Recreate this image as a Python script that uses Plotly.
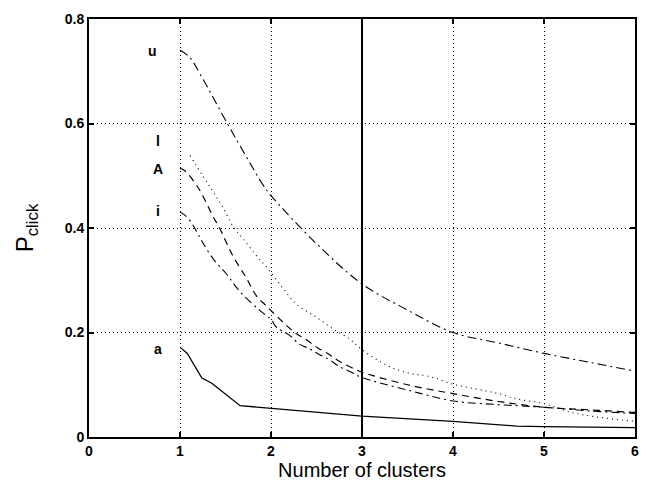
import plotly.graph_objects as go

# ---- data ----
u_x = [1.0, 1.1, 1.22, 1.52, 1.75, 1.91, 2.0, 2.5, 3.0, 3.5, 4.0, 4.5, 5.0, 5.5, 6.0]
u_y = [0.74, 0.728, 0.695, 0.60, 0.53, 0.483, 0.462, 0.37, 0.293, 0.243, 0.20, 0.18, 0.16, 0.143, 0.126]

l_x = [1.11, 1.25, 1.36, 1.47, 1.58, 1.69, 1.84, 1.96, 2.13, 2.28, 2.5, 2.68, 2.86, 3.0, 3.3, 3.52, 3.74, 4.0, 4.25, 4.5, 4.7, 5.0, 5.3, 5.6, 6.0]
l_y = [0.539, 0.50, 0.47, 0.44, 0.404, 0.38, 0.347, 0.323, 0.285, 0.254, 0.229, 0.207, 0.188, 0.167, 0.135, 0.122, 0.116, 0.101, 0.092, 0.083, 0.073, 0.064, 0.047, 0.038, 0.03]

A_x = [1.0, 1.05, 1.2, 1.36, 1.44, 1.58, 1.73, 1.84, 1.93, 2.0, 2.13, 2.26, 2.39, 2.51, 2.64, 2.75, 2.92, 3.0, 3.5, 4.0, 4.5, 5.0, 5.5, 6.0]
A_y = [0.514, 0.51, 0.477, 0.423, 0.398, 0.347, 0.304, 0.27, 0.254, 0.242, 0.22, 0.20, 0.186, 0.171, 0.158, 0.145, 0.13, 0.124, 0.10, 0.083, 0.068, 0.057, 0.052, 0.047]

i_x = [1.0, 1.05, 1.11, 1.18, 1.25, 1.36, 1.51, 1.66, 1.88, 2.0, 2.06, 2.2, 2.31, 2.42, 2.53, 2.64, 2.75, 2.86, 3.0, 3.5, 4.0, 4.5, 5.0, 5.5, 6.0]
i_y = [0.43, 0.425, 0.414, 0.394, 0.372, 0.342, 0.312, 0.278, 0.242, 0.225, 0.21, 0.195, 0.178, 0.169, 0.158, 0.148, 0.135, 0.126, 0.114, 0.09, 0.069, 0.062, 0.057, 0.05, 0.045]

a_x = [1.0, 1.08, 1.24, 1.35, 1.66, 2.0, 3.0, 4.0, 4.7, 5.0, 6.0]
a_y = [0.172, 0.16, 0.113, 0.103, 0.06, 0.055, 0.04, 0.03, 0.021, 0.02, 0.018]

marker_x = 3  # vertical solid line
x_ticks = [0, 1, 2, 3, 4, 5, 6]
y_ticks = [0, 0.2, 0.4, 0.6, 0.8]
y_tick_labels = ["0", "0.2", "0.4", "0.6", "0.8"]

labels = ["u", "l", "A", "i", "a"]
label_x = [0.70, 0.76, 0.76, 0.76, 0.76]
label_y = [0.738, 0.567, 0.513, 0.432, 0.168]

FONT = "Liberation Sans, Arial, Helvetica, sans-serif"

fig = go.Figure()

fig.add_trace(go.Scatter(x=[marker_x, marker_x], y=[0, 0.8], mode="lines",
                         line=dict(color="black", width=2), hoverinfo="skip"))

fig.add_trace(go.Scatter(x=u_x, y=u_y, mode="lines", line=dict(color="black", width=1.1, dash="9px,4px,2px,4px"), line_shape="spline"))
fig.add_trace(go.Scatter(x=l_x, y=l_y, mode="lines", line=dict(color="black", width=1.1, dash="1px,4px"), line_shape="spline"))
fig.add_trace(go.Scatter(x=A_x, y=A_y, mode="lines", line=dict(color="black", width=1.2, dash="7px,5px"), line_shape="spline"))
fig.add_trace(go.Scatter(x=i_x, y=i_y, mode="lines", line=dict(color="black", width=1.1, dash="8px,4px,2px,4px"), line_shape="spline"))
fig.add_trace(go.Scatter(x=a_x, y=a_y, mode="lines", line=dict(color="black", width=1.3)))

for t, lx, ly in zip(labels, label_x, label_y):
    fig.add_annotation(x=lx, y=ly, text=t, showarrow=False,
                       font=dict(family=FONT, size=14, color="black", weight="bold"))

axis_common = dict(
    showline=True, linecolor="black", linewidth=2, mirror="ticks",
    ticks="inside", ticklen=5, tickwidth=1.5, tickcolor="black",
    showgrid=True, gridcolor="black", gridwidth=1, griddash="1px,3px",
    zeroline=False,
    tickfont=dict(family=FONT, size=14, color="black", weight="bold"),
)

fig.update_xaxes(range=[0, 6], tickvals=x_ticks,
                 title=dict(text="Number of clusters", font=dict(family=FONT, size=20, color="black"), standoff=0),
                 **axis_common)
fig.update_yaxes(range=[0, 0.8], tickvals=y_ticks, ticktext=y_tick_labels,
                 title=dict(text="P<sub>click</sub>", font=dict(family=FONT, size=24, color="black"), standoff=24),
                 **axis_common)

fig.update_layout(
    width=650, height=485,
    margin=dict(l=89, r=14, t=11, b=48),
    plot_bgcolor="white", paper_bgcolor="white",
    showlegend=False,
    font=dict(family=FONT, color="black"),
)

fig.write_html("out.html", config={"displayModeBar": False},
               post_script="document.body.style.margin='0';document.body.style.overflow='hidden';")
